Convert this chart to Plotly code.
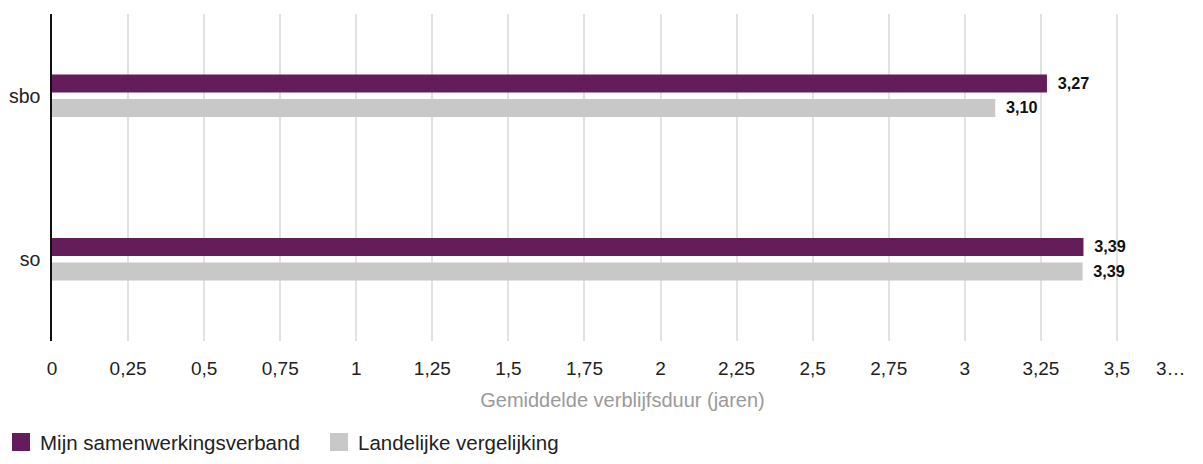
import plotly.graph_objects as go

categories = ["sbo", "so"]
series_names = ["Mijn samenwerkingsverband", "Landelijke vergelijking"]
mijn_values = [3.27, 3.39]
landelijk_values = [3.10, 3.387]
tick_vals = [0, 0.25, 0.5, 0.75, 1, 1.25, 1.5, 1.75, 2, 2.25, 2.5, 2.75, 3, 3.25, 3.5, 3.75]
tick_text = ["0", "0,25", "0,5", "0,75", "1", "1,25", "1,5", "1,75", "2", "2,25", "2,5", "2,75", "3", "3,25", "3,5", ""]
last_tick_label = "3…"
x_title = "Gemiddelde verblijfsduur (jaren)"

colors = ["#641c5a", "#c8c8c8"]
FONT = "Liberation Sans, Arial, sans-serif"
# page body has an 8px margin, so the figure is sized to fit inside the window
W, H = 1187, 448
ML, MR, MT, MB = 44, 2, 6, 115

fig = go.Figure()
for name, vals, col in zip(series_names, [mijn_values, landelijk_values], colors):
    fig.add_trace(go.Bar(
        y=categories, x=vals, name=name, orientation="h",
        marker=dict(color=col, line=dict(width=0)),
        texttemplate="\u00a0\u2009%{x:.2f}", textposition="outside",
        textfont=dict(family=FONT, size=18, color="#111111", weight="bold"),
        cliponaxis=False, showlegend=False,
    ))

# last (truncated) tick label
fig.add_annotation(x=tick_vals[-1], y=0, xref="x", yref="paper", text=last_tick_label,
                   showarrow=False, yanchor="middle", yshift=-27, xshift=-22,
                   font=dict(family=FONT, size=19, color="#222222"))

# manual legend (squares + labels)
legend_x = [4, 322]
legend_y = 434
PW, PH = W - ML - MR, H - MT - MB
for i, (name, col) in enumerate(zip(series_names, colors)):
    x0 = legend_x[i]
    fig.add_shape(type="rect", xref="paper", yref="paper",
                  x0=(x0 - ML) / PW, x1=(x0 + 18 - ML) / PW,
                  y0=(H - MB - (legend_y + 9)) / PH, y1=(H - MB - (legend_y - 9)) / PH,
                  fillcolor=col, line=dict(width=0))
    fig.add_annotation(xref="paper", yref="paper",
                       x=(x0 + 26 - ML) / PW, y=(H - MB - legend_y) / PH,
                       xanchor="left", yanchor="middle", text=name, showarrow=False,
                       font=dict(family=FONT, size=20.5, color="#222222"))

fig.update_layout(
    width=W, height=H,
    margin=dict(l=ML, r=MR, t=MT, b=MB, autoexpand=False),
    paper_bgcolor="white", plot_bgcolor="white",
    barmode="group", bargap=0.70, bargroupgap=0.265,
    separators=",.",
    font=dict(family=FONT, size=19, color="#222222"),
    showlegend=False,
    xaxis=dict(range=[0, 3.75], tickmode="array", tickvals=tick_vals, ticktext=tick_text,
               showgrid=True, gridcolor="#e2e2e2", gridwidth=1.5, zeroline=False,
               showline=False, ticks="", automargin=False, ticklabelstandoff=14,
               tickfont=dict(family=FONT, size=19, color="#222222"),
               title=dict(text=x_title, font=dict(family=FONT, size=20, color="#9a9a9a"), standoff=14)),
    yaxis=dict(autorange="reversed", showline=True, linecolor="#111111", linewidth=1.5,
               showgrid=False, ticks="", ticklabelstandoff=6, automargin=False,
               tickfont=dict(family=FONT, size=19.5, color="#222222")),
)

fig.write_html("out.html")
